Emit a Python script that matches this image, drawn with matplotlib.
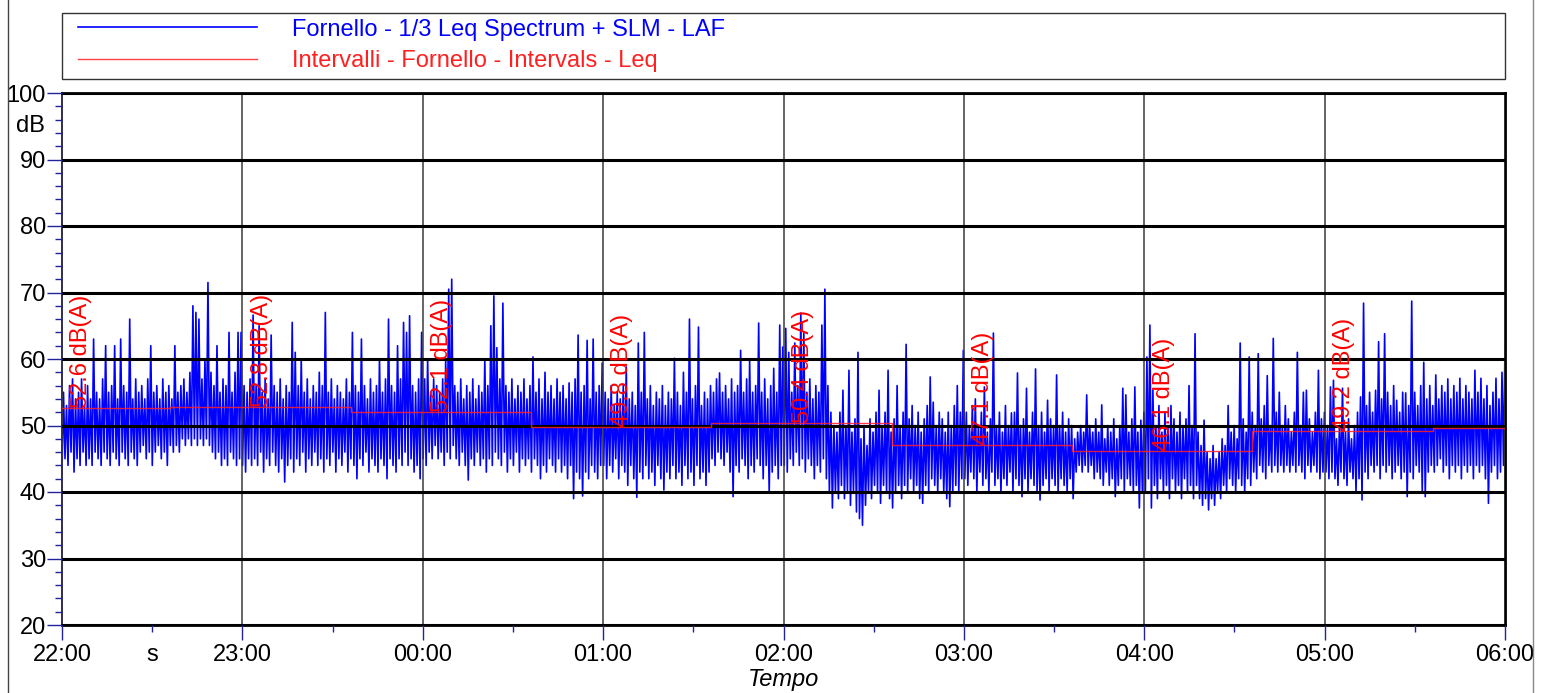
import numpy as np
import matplotlib
matplotlib.use("Agg")
import matplotlib.pyplot as plt
from matplotlib.lines import Line2D
from matplotlib.patches import Rectangle
from matplotlib.ticker import MultipleLocator, FixedLocator, FixedFormatter

# ---- LAF trace (dB), alternating trough / peak, one pair per minute, hour by hour ----
laf_h22 = [43,55, 45,53, 44,56, 46,57, 43,54, 45,55, 44,57, 46,53, 44,56, 45,54,
           44,63, 46,55, 45,54, 44,57, 46,62, 45,55, 44,56, 46,62, 45,54, 44,63,
           46,56, 45,55, 44,66, 46,54, 45,57, 44,55, 46,56, 47,54, 45,57, 46,62,
           44,55, 46,56, 47,54, 45,57, 46,55, 44,56, 47,54, 46,62, 47,55, 46,56,
           48,57, 47,55, 48,58, 47,68, 48,67, 47,66, 48,57, 47,60, 48,71.5, 47,58,
           46,56, 45,62, 46,55, 44,57, 45,56, 44,64, 46,55, 45,58, 44,64, 45,64]
laf_h23 = [44,56, 43,55, 45,57, 44,66.6, 45,56, 44,65, 46,55, 43,57, 45,54, 44,63.6,
           46,56, 44,55, 43,57, 45,54, 41.5,56, 44,55, 45,65.5, 43,61, 45,56, 44,60,
           46,55, 43,57, 45,54, 44,56, 46,55, 44,58, 45,56, 43,67, 45,55, 44,57,
           46,54, 43,56, 45,55, 44,54, 46,57, 43,55, 45,64, 44,56, 42,55, 45,63,
           44,56, 46,54, 43,57, 45,55, 44,56, 43,60, 45,55, 44,57, 42,66, 45,56,
           44,55, 43,62, 45,57, 44,65.5, 46,64, 44,66.5, 45,56, 43,55, 44,57, 42,64]
laf_h00 = [45,57, 44,60, 46,55, 45,57, 47,56, 45,55, 46,57, 44,60, 46,70.5, 45,72,
           47,56, 45,55, 44,57, 46,54, 44,56, 41.8,55, 45,57, 44,54, 46,56, 44,55,
           45,60, 43,56, 45,65, 44,69.5, 46,61.7, 45,57, 44,68.4, 46,56, 43,55, 45,57,
           44,54, 46,56, 43,55, 45,57, 44,54, 45,56, 43,60.3, 45,55, 44,57, 42,54,
           44,58, 43,55, 45,56, 44,54, 43,57, 45,55, 43,56, 44,54, 42,56.4, 44,55,
           39,57, 43,63.6, 42,55, 39.4,56, 43,62.8, 42,54, 44,63, 43,55, 42,56, 44,59.4]
laf_h01 = [44,55, 42,54, 44,56, 43,53, 45,55, 42,54, 44,56, 43,58.8, 41,54, 44,55,
           42,53, 39.2,62.4, 43,55, 42,64, 44,54, 42,56, 43,53, 41,55, 44,54, 42,56,
           40.3,53, 43,55, 42,54, 44,60.1, 42,55, 43,53, 41,58, 44,55, 42,66, 43,54,
           41,56, 44,64.8, 42,53, 43,55, 41,54, 43,56, 45,55, 44,57, 46,57.9, 45,55,
           44,56, 46,54, 43,57, 39.3,55, 44,56, 43,61.3, 45,55, 44,57, 42,59.8, 44,55,
           43,56, 45,65.4, 44,55, 42,57, 44,54, 40,56, 43,58.6, 44,55, 42,65.1, 44,61.8]
laf_h02 = [44,64.6, 43,61, 45,55, 44,62.4, 46,56, 44,66.9, 45,63.9, 43,55, 45,57, 44,54,
           42,56, 44,55, 43,65.1, 45,70.5, 42,56, 40,52, 37.6,50, 40,49, 39,52, 41,55.3,
           39,50, 40,58.3, 38,49, 40,51, 37,61, 36,48, 35,50, 38,47, 40,51, 39,49,
           41,52, 40,55.3, 38.3,50, 41,52, 40,58.3, 39,49, 37.6,51, 40,56, 41,50, 39,52,
           41,62.2, 40,51, 42,53, 40,50, 41,52, 39,49, 38.3,51, 41,53, 40,57.3, 42,53.5,
           41,50, 40,52, 42,51, 40,49, 39,52, 37.8,50, 40,53, 41,56, 40,52, 42,61.3]
laf_h03 = [42,52, 41,50, 43,53, 42,54, 40,50, 43,52, 41,55.8, 42,49, 40,51, 43,63.9,
           41,50, 42,52, 40,49, 42,53, 41,50, 43,51.9, 40,52, 42,57.9, 41,50, 39.3,51,
           42,55.6, 40,49, 42,52, 41,58.5, 40,50, 38.8,52, 41,49, 42,53.8, 40,51, 42,50,
           41,57.6, 40,50, 42,52, 41,49, 40,51, 42,50, 39,48, 43,49, 44,50, 43,49,
           44,54.6, 43,50, 44,49, 42,51, 43,49, 42,53.1, 41,48, 43,50, 41,49, 42,51,
           39.3,48, 41,50, 42,55.6, 40,54.6, 42,49, 41,51, 40,55.8, 41,49, 37.6,50.8, 40,52]
laf_h04 = [40,60.3, 42,65.1, 37.6,55.3, 41,50, 39,53, 42,49, 40,52, 41,50, 39,53, 42,51,
           40,49, 41,52, 39,50, 42,51, 40,56, 41,50, 39,63.8, 41,49, 39,47, 38,50.8,
           39,46, 37.3,45, 39,47, 38,45, 40,46, 39,48, 41,47, 40,53, 42,49, 41,50,
           40,48, 42,62.4, 41,51, 40,49, 42,60.3, 41,52, 43,50, 42,60.8, 44,51, 43,53,
           42,57.5, 44,50, 43,63.1, 44,52, 43,55, 44,50, 43,53, 44,51, 43,49, 44,52,
           43,61, 44,50, 43,55, 42,55.3, 44,51, 43,49, 44,52, 43,58.3, 42,51, 43,52]
laf_h05 = [43,50, 42,55.8, 43,56.8, 42,48, 41,50, 43,55.6, 42,49, 41,51, 43,48, 42,50,
           40,52, 42,54.3, 38.8,68.4, 43,53, 42,55, 44,52, 43,55.3, 44,62.6, 42,54, 44,63.8,
           43,55, 44,53, 42,56, 43,53.8, 44,52, 42,55, 43,54.9, 39.3,53, 43,68.7, 42,55,
           44,53, 43,56, 40,59.5, 39.3,54, 43,56, 44,53, 43,57.6, 44,54, 45,56, 43,55,
           44,57, 42,54, 44,56, 43,55, 44,57.1, 42,54, 44,56, 43,55, 44,54, 42,58.3,
           44,55, 43,57.1, 44,54, 42,56, 38.3,53, 43,55, 44,57.1, 42,54, 43,58, 44,61.8]

# ---- Interval Leq (red step line) ----
interval_edges = [0.0, 0.6, 1.6, 2.6, 3.6, 4.6, 5.6, 6.6, 7.6, 8.0]
interval_leq = [52.6, 52.8, 52.1, 49.8, 50.4, 47.1, 46.1, 49.2, 49.6]
interval_labels = ["52.6 dB(A)", "52.8 dB(A)", "52.1 dB(A)", "49.8 dB(A)",
                   "50.4 dB(A)", "47.1 dB(A)", "46.1 dB(A)", "49.2 dB(A)"]
hour_labels = ["22:00", "23:00", "00:00", "01:00", "02:00", "03:00", "04:00", "05:00", "06:00"]

plt.rcParams["font.family"] = ["Liberation Sans", "DejaVu Sans"]
FS = 17

laf = np.array(laf_h22 + laf_h23 + laf_h00 + laf_h01 + laf_h02 + laf_h03 + laf_h04 + laf_h05)
t = np.linspace(0, 8, len(laf))

W, H = 1543, 693
fig = plt.figure(figsize=(W / 100, H / 100), dpi=100)
ax = fig.add_axes([62 / W, 1 - 625 / H, (1505 - 62) / W, (625 - 93) / H])

ln_blue, = ax.plot(t, laf, color="#0000ff", lw=1.2, zorder=2,
                   label="Fornello - 1/3 Leq Spectrum + SLM - LAF")
steps_y = interval_leq + [interval_leq[-1]]
ln_red, = ax.step(interval_edges, steps_y, where="post", color="#ff2020", lw=1.0,
                  alpha=0.85, zorder=3, label="Intervalli - Fornello - Intervals - Leq")

for k, (lbl, lev) in enumerate(zip(interval_labels, interval_leq)):
    ax.annotate(lbl, xy=(k, lev), xytext=(6, 0), textcoords="offset points",
                rotation=90, ha="left", va="bottom", color="red", fontsize=FS, zorder=4)

ax.set_xlim(0, 8)
ax.set_ylim(20, 100)

ax.set_yticks(range(20, 101, 10))
ax.yaxis.set_minor_locator(MultipleLocator(2))
ax.set_xticks(range(9))
ax.set_xticklabels(hour_labels)
half = [k + 0.5 for k in range(8)]
ax.xaxis.set_minor_locator(FixedLocator(half))
ax.xaxis.set_minor_formatter(FixedFormatter(["s"] + [""] * 7))

tick_col = "#22229a"
ax.tick_params(axis="both", which="major", direction="out", length=10.5, width=1.0,
               color=tick_col, labelsize=FS)
ax.tick_params(axis="both", which="minor", direction="out", length=5, width=1.0,
               color=tick_col, labelsize=FS)
ax.tick_params(axis="y", which="major", pad=1)
ax.tick_params(axis="x", which="major", pad=3)
ax.tick_params(axis="x", which="minor", pad=3 + 5.5)

ax.grid(axis="y", which="major", color="black", lw=2.2)
ax.grid(axis="x", which="major", color="#3a3a3a", lw=1.1)
ax.set_axisbelow(False)

for side in ("top", "bottom", "right"):
    ax.spines[side].set_color("black")
    ax.spines[side].set_linewidth(2.0)
ax.spines["left"].set_color(tick_col)
ax.spines["left"].set_linewidth(1.4)

ax.text(-0.012, 95, "dB", transform=ax.get_yaxis_transform(), ha="right", va="center",
        fontsize=FS)
ax.set_xlabel("Tempo", fontsize=FS, style="italic", labelpad=1.5)

# legend box
fig.add_artist(Rectangle((62 / W, 1 - 79 / H), (1505 - 62) / W, 66 / H,
                         transform=fig.transFigure, fill=False, edgecolor="#333333", lw=1.0))
fig.legend(handles=[ln_blue, ln_red], loc="center left",
           bbox_to_anchor=(78 / W, 1 - 45.5 / H), frameon=False, borderpad=0,
           borderaxespad=0, fontsize=FS, handlelength=7.6, handletextpad=1.45,
           labelspacing=0.42, labelcolor="linecolor")

# figure side borders
fig.add_artist(Line2D([8 / W, 8 / W], [0, 1], transform=fig.transFigure, color="#444444", lw=1.0))
fig.add_artist(Line2D([1533 / W, 1533 / W], [0, 1], transform=fig.transFigure, color="#888888", lw=1.0))

fig.savefig("out.png", dpi=100)
